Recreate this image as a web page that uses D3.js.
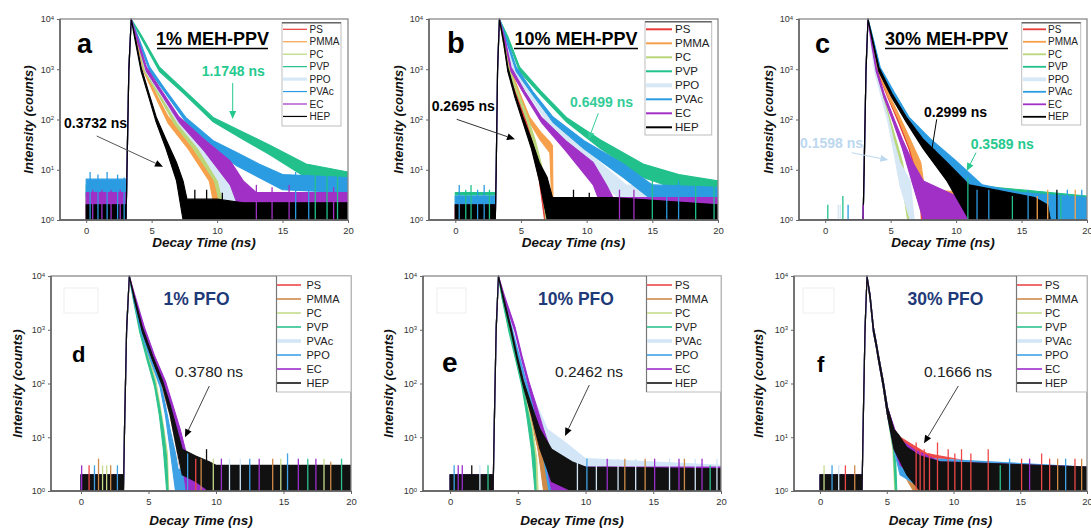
<!DOCTYPE html>
<html>
<head>
<meta charset="utf-8">
<title></title>
<style>
  body { margin: 0; background: #fff; }
  text { font-family: Arial, "Liberation Sans", sans-serif; }
</style>
</head>
<body>
<svg width="1091" height="528"></svg>

<script src="https://d3js.org/d3.v7.min.js"></script>
<script>

// ---- shared labels / ticks ----
var seriesTop = ["PS", "PMMA", "PC", "PVP", "PPO", "PVAc", "EC", "HEP"];
var seriesBottom = ["PS", "PMMA", "PC", "PVP", "PVAc", "PPO", "EC", "HEP"];
var xTickValues = [0, 5, 10, 15, 20];
var yTickValues = [1, 10, 100, 1000, 10000];

var colorsMEH = {PS: "#e83b3b", PMMA: "#f6a04c", PC: "#b9d77a", PVP: "#22c08a",
                 PPO: "#d6e7f6", PVAc: "#2c9ce2", EC: "#a131c6", HEP: "#000000"};
var colorsPFO = {PS: "#ee4848", PMMA: "#cf8a48", PC: "#c6dc8c", PVP: "#2dc38d",
                 PVAc: "#d2e6f7", PPO: "#3ea1e6", EC: "#9b2dcc", HEP: "#111111"};

// every point is [time ns, low count, high count] of the noisy trace

// ---- a : 1% MEH-PPV ----
var bgEndA = 3.02;
var riseA = [[3.05,1,1.2],[3.12,10,14],[3.26,900,1100],[3.44,9800,10000]];
var bgA = {PS:[1,3], PMMA:[1,3], PC:[1,3], PVP:[2,5], PPO:[1,3], PVAc:[3,6.5], EC:[1,3.5], HEP:[1,2]};
var decayA = {
  PS:   [[4.0,2900,3400],[4.5,900,1100],[5.7,280,340],[6.9,85,115],[8.4,26,38],[9.9,6,13],[10.6,1,6],[11.2,1,3],[20,1,3]],
  PMMA: [[3.95,2800,3300],[4.4,900,1100],[5.3,280,340],[6.25,85,115],[7.8,26,38],[9.4,6,13],[10.0,1,6],[10.4,1,3],[20,1,3]],
  PC:   [[4.0,2900,3400],[4.45,900,1100],[5.6,280,340],[6.7,85,115],[8.2,26,38],[9.8,6,13],[10.5,1,6],[11,1,3],[20,1,3]],
  PVP:  [[4.2,4200,4800],[5.6,900,1100],[7.5,320,380],[9.7,90,110],[12,40,56],[14,20,31],[16.8,7,13],[20,5,9]],
  PPO:  [[4.05,2900,3400],[4.55,900,1100],[5.8,280,340],[7.0,85,115],[8.6,26,38],[10.1,6,13],[10.8,1,6],[11.4,1,3],[20,1,3]],
  PVAc: [[4.0,3700,4300],[4.85,900,1100],[6.0,350,410],[7.6,90,110],[9.7,26,38],[11.5,12,22],[13.2,7,13],[15,4,8],[20,3.5,7]],
  EC:   [[4.0,3000,3600],[4.6,900,1100],[5.8,300,360],[7.1,88,112],[9.0,24,40],[11,5,15],[12,1,6],[13,1,3.5],[20,1,3.5]],
  HEP:  [[3.8,3100,3700],[4.2,900,1100],[4.8,270,330],[5.35,88,112],[6.1,26,40],[6.9,6,14],[7.4,1,6],[7.7,1,2.6],[10,1,2.6],[12,1,2.2],[20,1,2.2]]
};
var spikesA = [[0.3,9,"PVAc"],[0.9,8,"PVAc"],[1.6,9,"PVAc"],[2.4,8,"PVAc"],[2.9,7,"PVAc"],[0.5,4,"EC"],[1.2,4,"EC"],
               [1.9,4,"EC"],[2.6,4,"EC"],[17.5,9,"PVP"],[19.2,9,"PVP"],[18.4,8,"PVP"],[16,9,"PVAc"],[17,8,"PVAc"],
               [8.3,4,"HEP"],[9.2,4,"HEP"],[10.4,3.5,"HEP"],[13,5,"EC"],[14.2,4.5,"EC"],[15.5,5,"EC"],[18.9,4.5,"EC"]];

// ---- b : 10% MEH-PPV ----
var bgEndB = 3.0;
var riseB = [[3.05,1,1.2],[3.12,10,14],[3.22,900,1100],[3.36,9800,10000]];
var bgB = {PS:[1,2], PMMA:[1,2], PC:[1,2], PVP:[2,3.5], PPO:[2,3], PVAc:[2,3], EC:[1,2], HEP:[1,2]};
var decayB = {
  PS:   [[3.7,3000,3500],[4.05,900,1100],[4.65,280,340],[5.3,88,112],[5.9,26,38],[6.4,6,13],[6.8,1,6],[7.2,1,2.6],[20,1,2.6]],
  PMMA: [[3.75,3000,3500],[4.15,900,1100],[4.9,280,340],[5.65,88,112],[6.5,38,56],[7.2,22,36],[7.4,1,30],[7.45,1,1]],
  PC:   [[3.7,3000,3500],[4.05,900,1100],[4.8,280,340],[5.5,88,112],[6.1,26,38],[6.55,6,13],[6.9,1,4],[7.2,1,2],[20,1,2]],
  PVP:  [[4.0,3800,4500],[4.9,900,1100],[6.5,310,370],[8.46,90,110],[11,27,40],[14.3,7,13],[17,4,8],[20,3,6]],
  PPO:  [[3.85,3400,3900],[4.45,900,1100],[5.7,280,340],[7.0,88,112],[9.0,26,38],[11,6,14],[13,2,5],[20,2,3.5]],
  PVAc: [[3.9,3600,4200],[4.64,900,1100],[5.9,310,360],[7.44,88,112],[9.8,26,38],[12.8,7,13],[15,2.5,5],[20,2,4.5]],
  EC:   [[3.8,3400,3900],[4.25,900,1100],[5.3,300,360],[6.55,88,112],[8.4,24,38],[10.5,5,14],[11.5,1,5],[12,1,2.8],[20,1,2.8]],
  HEP:  [[3.7,3100,3600],[4.0,900,1100],[4.55,270,330],[5.15,88,112],[5.8,26,40],[6.4,6,14],[7.0,1,7],[7.4,1,2.8],[12,1,2.8],[20,1,2]]
};
var spikesB = [[0.3,5,"PVAc"],[0.8,4,"PVP"],[1.2,5,"PVP"],[1.7,4,"PVAc"],[2.2,5,"PVAc"],[2.6,4,"PVP"],[15,6,"PVP"],
               [16.1,5,"PVAc"],[17,6,"PVAc"],[18.3,5,"PVP"],[19.7,6,"PVP"],[12.5,4,"EC"],[13.6,4,"EC"],[9,4,"HEP"],[10.2,3.5,"HEP"]];

// ---- c : 30% MEH-PPV ----
var bgEndC = 2.88;
var riseC = [[2.9,1,1.2],[2.98,10,14],[3.12,900,1100],[3.27,9800,10000]];
var bgC = {PS:[1,1], PMMA:[1,1], PC:[1,1], PVP:[1,1], PPO:[1,1], PVAc:[1,1], EC:[1,1], HEP:[1,1]};
var decayC = {
  PS:   [[3.6,3300,3800],[4.0,900,1100],[4.8,270,330],[5.6,88,112],[6.4,26,40],[7.2,5,14],[7.35,1,5],[7.5,1,1]],
  PMMA: [[3.62,3300,3800],[4.05,900,1100],[4.85,270,330],[5.7,88,112],[6.5,26,40],[7.3,5,14],[7.6,1,4],[20,1,2.6]],
  PC:   [[3.55,3100,3600],[3.9,900,1100],[4.4,270,330],[4.9,88,112],[5.4,26,40],[5.9,5,14],[6.3,1,4],[6.5,1,1]],
  PVP:  [[3.65,3500,4000],[4.15,900,1100],[5.2,270,330],[6.3,88,112],[7.6,26,40],[9.8,6,14],[11,1,5],[20,1,3]],
  PPO:  [[3.5,3000,3500],[3.78,900,1100],[4.3,270,330],[4.8,88,112],[5.2,26,40],[5.7,5,14],[6.5,1,6],[6.8,1,1]],
  PVAc: [[3.66,3500,4100],[4.2,900,1100],[5.3,280,340],[6.4,88,112],[8.0,27,42],[10,6,15],[12,2,5],[15,1,3.5],[20,1,2.8]],
  EC:   [[3.55,3100,3600],[3.9,900,1100],[4.5,270,330],[5.2,88,112],[5.9,26,40],[6.7,5,14],[7.5,1,6],[10,1,3],[12,1,2.6],[12.3,1,1]],
  HEP:  [[3.63,3400,3900],[4.1,900,1100],[5.1,270,330],[6.2,88,112],[7.5,26,40],[9.3,6,14],[11,1,5],[16,1,2.8],[17,1,2],[17.2,1,1]]
};
var spikesC = [[0.2,2,"PVP"],[1.0,2,"PPO"],[1.15,2,"PPO"],[1.35,3,"PVP"],[1.75,2,"PVAc"],[2.9,2,"EC"],
               [10.9,7,"PVP"],[11.6,4,"PVAc"],[12.5,4,"PVAc"],[13.2,4,"HEP"],[14.3,3,"PVP"],[15.5,4,"PVAc"],
               [16.2,3,"PMMA"],[17,4,"PMMA"],[17.7,4,"HEP"],[18,3,"PVP"],[18.5,4,"PVAc"],[19.1,4,"PMMA"],[19.6,4,"PVAc"]];

// ---- d : 1% PFO ----
var bgEndD = 3.12;
var riseD = [[3.15,1,1.2],[3.22,10,14],[3.38,900,1100],[3.58,9800,10000]];
var bgD = {PS:[1,2], PMMA:[1,2], PC:[1,2], PVP:[1,2], PVAc:[1,2], PPO:[1,2], EC:[1,2], HEP:[1,2]};
var decayD = {
  PS:   [[3.95,3600,4200],[4.55,900,1100],[5.3,270,330],[6.0,88,112],[6.6,26,40],[7.1,6,14],[7.6,1,5],[10,1,2.8],[20,1,2.8]],
  PMMA: [[3.95,3600,4200],[4.55,900,1100],[5.3,270,330],[6.0,88,112],[6.6,26,40],[7.1,6,14],[7.6,1,5],[10,1,2.8],[20,1,2.8]],
  PC:   [[3.9,3600,4200],[4.4,900,1100],[5.0,270,330],[5.55,88,112],[5.85,26,40],[6.15,6,14],[6.4,1,5],[6.5,1,1]],
  PVP:  [[3.88,3600,4200],[4.35,900,1100],[4.9,270,330],[5.45,88,112],[5.8,26,40],[6.1,6,14],[6.35,1,4],[6.45,1,1]],
  PVAc: [[3.95,3600,4200],[4.55,900,1100],[5.3,270,330],[6.05,88,112],[6.6,26,40],[7.1,6,14],[7.6,1,5],[10,1,2.8],[20,1,2.8]],
  PPO:  [[3.92,3600,4200],[4.45,900,1100],[5.15,270,330],[5.85,88,112],[6.25,26,40],[6.6,6,14],[7.0,1,5],[7.2,1,2.5],[20,1,2.5]],
  EC:   [[4.0,3700,4300],[4.7,900,1100],[5.45,270,330],[6.25,88,112],[6.8,26,40],[7.35,6,14],[7.8,1,5],[10,1,2.8],[20,1,2.8]],
  HEP:  [[3.95,3600,4200],[4.55,900,1100],[5.3,270,330],[6.05,88,112],[6.6,26,40],[7.1,6,14],[7.5,2,6],[8.5,1.5,4.5],[9.5,1,3.5],[10,1,3],[20,1,3]]
};
var spikesD = [[0.05,3,"EC"],[0.6,3,"PS"],[1.0,3,"PPO"],[1.3,4,"PMMA"],[1.6,3,"PC"],[1.9,3,"PC"],[2.2,3,"PMMA"],[2.7,3,"PPO"],
               [7.9,5,"PPO"],[8.5,4,"PS"],[8.9,4,"PMMA"],[9.3,6,"HEP"],[9.8,4,"PC"],[10.4,4,"EC"],[11.0,4,"PVAc"],
               [11.8,4,"PVAc"],[12.5,4,"PPO"],[13.2,4,"EC"],[14.2,4,"PMMA"],[14.8,4,"PC"],[15.3,5,"PPO"],
               [16.1,4,"EC"],[16.8,4,"PVP"],[17.4,4,"EC"],[18.0,4,"PC"],[18.5,3.5,"PMMA"],[19.3,4,"PVP"]];

// ---- e : 10% PFO ----
var bgEndE = 3.15;
var riseE = [[3.18,1,1.2],[3.25,10,14],[3.4,900,1100],[3.57,9800,10000]];
var bgE = {PS:[1,2], PMMA:[1,2], PC:[1,2], PVP:[1,2], PVAc:[1,2], PPO:[1,2], EC:[1,2], HEP:[1,2]};
var decayE = {
  PS:   [[3.9,3700,4300],[4.5,900,1100],[5.0,270,330],[5.45,88,112],[5.95,26,40],[6.5,6,14],[7.0,1,5],[7.5,1,2.5],[20,1,2.5]],
  PMMA: [[3.9,3700,4300],[4.5,900,1100],[5.0,270,330],[5.45,88,112],[5.95,26,40],[6.5,6,14],[6.9,1,4],[7.2,1,2.5],[20,1,2.5]],
  PC:   [[3.85,3700,4300],[4.4,900,1100],[4.9,270,330],[5.35,88,112],[5.7,26,40],[6.1,6,14],[6.4,1,4],[6.5,1,1]],
  PVP:  [[3.85,3700,4300],[4.35,900,1100],[4.85,270,330],[5.3,88,112],[5.65,26,40],[6.0,6,14],[6.27,1,4],[6.35,1,1]],
  PVAc: [[3.95,3700,4300],[4.6,900,1100],[5.15,270,330],[5.7,88,112],[6.4,26,40],[7.2,6,14],[8.5,3,8],[10,2,4],[20,1.5,3]],
  PPO:  [[3.92,3700,4300],[4.55,900,1100],[5.1,270,330],[5.6,88,112],[6.2,26,40],[6.8,6,14],[7.3,1,5],[7.6,1,2.5],[20,1,2.5]],
  EC:   [[4.0,3800,4400],[4.8,900,1100],[5.3,270,330],[5.8,88,112],[6.35,26,40],[6.9,6,14],[7.5,1,5],[8,1,2.8],[20,1,2.8]],
  HEP:  [[3.92,3700,4300],[4.5,900,1100],[4.95,270,330],[5.41,88,112],[6.0,26,40],[6.64,6,14],[7.5,1.5,6],[9,1,3.5],[10,1,2.8],[20,1,2.6]]
};
var spikesE = [[0.3,3,"PPO"],[0.6,3,"EC"],[0.9,3,"EC"],[1.6,3,"HEP"],[2.2,3,"PVAc"],[2.8,3,"PVP"],[9.4,5,"PVAc"],
               [10.1,4,"PPO"],[10.8,4,"PVAc"],[11.6,4,"EC"],[12.4,4,"PVAc"],[12.9,4,"PMMA"],[13.7,4,"PVAc"],
               [14.4,4,"PMMA"],[15.1,4,"EC"],[16.2,4,"PVAc"],[16.9,4,"EC"],[17.3,4,"PMMA"],[18.1,4,"PVAc"],
               [18.6,4,"EC"],[19.2,3,"PVP"],[19.7,4,"PVAc"]];

// ---- f : 30% PFO ----
var bgEndF = 3.12;
var riseF = [[3.15,1,1.2],[3.22,10,14],[3.37,900,1100],[3.52,9800,10000]];
var bgF = {PS:[1,2], PMMA:[1,2], PC:[1,2], PVP:[1,2], PVAc:[1,2], PPO:[1,2], EC:[1,2], HEP:[1,2]};
var coreF = [[3.75,3800,4400],[4.0,900,1100],[4.2,500,600],[4.38,270,330],[4.73,88,112],[5.05,26,36]];
var decayF = {
  PS:   coreF.concat([[5.54,7,14],[6.0,5,10],[7,3.5,7],[8,2.5,5],[10,1.5,4],[12,1.2,3.2],[20,1,2.8]]),
  PMMA: coreF.concat([[5.54,6,14],[5.9,3,10],[7,1,5],[9,1,3],[20,1,2.8]]),
  PC:   coreF.concat([[5.45,6,14],[5.6,1,5],[5.7,1,1]]),
  PVP:  coreF.concat([[5.5,6,14],[5.65,1,5],[5.75,1,1]]),
  PVAc: coreF.concat([[5.54,6,14],[6.0,2,8],[8,1,4],[20,1,2.8]]),
  PPO:  coreF.concat([[5.54,6,14],[6.0,2,8],[8,1,4],[20,1,2.8]]),
  EC:   coreF.concat([[5.6,6,14],[6.0,3,9],[7,2,6],[9,1,3.5],[20,1,2.8]]),
  HEP:  coreF.concat([[5.54,6,14],[5.9,4,11],[6.5,2,6.5],[7.5,1,4.5],[9,1,3.5],[20,1,2.8]])
};
var spikesF = [[0.3,3,"PC"],[0.9,3,"PPO"],[1.4,3,"PVAc"],[1.9,3,"PS"],[2.6,3,"PMMA"],[7.2,8,"PS"],[7.5,6,"PS"],
               [7.8,6,"PS"],[8.2,5,"PS"],[8.8,8,"PS"],[9.6,6,"PS"],[10.1,5,"PS"],[10.6,6,"PS"],[11.3,5,"PS"],
               [12.6,6,"PS"],[13.5,3,"PVP"],[14.2,4,"PPO"],[15.1,4,"PS"],[15.7,4,"EC"],[16.6,5,"PS"],
               [17.2,4,"PS"],[17.8,4,"PMMA"],[18.4,4,"PPO"],[19.1,4,"PS"],[19.6,4,"PMMA"]];

// ---- panel layout ----
var panels = [
  {letter: "a", box: [60, 19, 348, 220], x0: -2, names: seriesTop, colors: colorsMEH,
   bg: bgA, bgEnd: bgEndA, rise: riseA, decay: decayA, spikes: spikesA,
   title: "1% MEH-PPV", titleX: 212.5, titleY: 44.5, underline: [157, 268, 48.5],
   letterPos: [77, 53.3, 27],
   legend: {x: 282, y: 22.7, w: 59, h: 103.3, l0: 283, l1: 307, tx: 309.5, y0: 29.3, step: 12.45, fs: 10, lw: 1.2},
   yLabelX: 28, notes: [
     {t: "0.3732 ns", x: 64, y: 122.7, c: "#000", a: [96.7, 136, 163, 166.7], ac: "#555", hc: "#000"},
     {t: "1.1748 ns", x: 201.7, y: 70.7, c: "#25c98e", a: [232.7, 83, 232.7, 119], ac: "#25c98e", hc: "#25c98e"}]},
  {letter: "b", box: [429, 19, 718, 220], x0: -2, names: seriesTop, colors: colorsMEH,
   bg: bgB, bgEnd: bgEndB, rise: riseB, decay: decayB, spikes: spikesB,
   title: "10% MEH-PPV", titleX: 576, titleY: 44.5, underline: [514, 638, 48.5],
   letterPos: [447, 53.3, 29],
   legend: {x: 645, y: 21.7, w: 66.7, h: 113.3, l0: 646, l1: 672, tx: 675, y0: 29.3, step: 14, fs: 11.5, lw: 2},
   yLabelX: 398, notes: [
     {t: "0.2695 ns", x: 431.7, y: 106, c: "#000", a: [456.7, 119.3, 515, 139.3], ac: "#333", hc: "#000"},
     {t: "0.6499 ns", x: 570, y: 101.7, c: "#33cc99", a: [598.3, 113.3, 588.3, 140], ac: "#33cc99", hc: "#33cc99"}]},
  {letter: "c", box: [799, 19, 1087, 220], x0: -2, names: seriesTop, colors: colorsMEH,
   bg: bgC, bgEnd: bgEndC, rise: riseC, decay: decayC, spikes: spikesC,
   title: "30% MEH-PPV", titleX: 946.5, titleY: 44.5, underline: [885, 1008, 48.5],
   letterPos: [815, 53.3, 27],
   legend: {x: 1021.7, y: 22.7, w: 59, h: 102.3, l0: 1023, l1: 1046, tx: 1048, y0: 29.3, step: 12.5, fs: 10, lw: 1.8},
   yLabelX: 768, notes: [
     {t: "0.1598 ns", x: 800, y: 142.7, c: "#bcd8ef", a: [851.7, 152.7, 888.3, 160], ac: "#bcd8ef", hc: "#bcd8ef"},
     {t: "0.2999 ns", x: 924, y: 111.7, c: "#000", a: [936.7, 119.3, 930.7, 157], ac: "#000", hc: "#000"},
     {t: "0.3589 ns", x: 970.7, y: 144.3, c: "#25c98e", a: [976, 152.7, 966.7, 171], ac: "#25c98e", hc: "#25c98e"}]},
  {letter: "d", box: [51, 276, 351, 491], x0: -2.22, names: seriesBottom, colors: colorsPFO,
   bg: bgD, bgEnd: bgEndD, rise: riseD, decay: decayD, spikes: spikesD,
   title: "1% PFO", titleX: 196.5, titleY: 304.5, pfo: true, blank: [64, 288, 34, 25],
   letterPos: [72, 361.7, 22],
   legend: {x: 276.5, y: 276, w: 74.5, h: 116, l0: 277, l1: 301, tx: 306.5, y0: 285, step: 14, fs: 11, lw: 1.6},
   yLabelX: 17, notes: [
     {t: "0.3780 ns", x: 175, y: 371, c: "#222", a: [209.3, 386, 185, 437.3], ac: "#444", hc: "#000", normal: true}]},
  {letter: "e", box: [423, 276, 721, 491], x0: -2, names: seriesBottom, colors: colorsPFO,
   bg: bgE, bgEnd: bgEndE, rise: riseE, decay: decayE, spikes: spikesE,
   title: "10% PFO", titleX: 576, titleY: 304.5, pfo: true, blank: [437, 288, 29, 25],
   letterPos: [442, 371.7, 28],
   legend: {x: 646.5, y: 276, w: 74.5, h: 116, l0: 647, l1: 672, tx: 675, y0: 285, step: 14, fs: 11, lw: 1.6},
   yLabelX: 388, notes: [
     {t: "0.2462 ns", x: 555, y: 371.7, c: "#222", a: [589.3, 385, 565, 436], ac: "#444", hc: "#000", normal: true}]},
  {letter: "f", box: [794, 276, 1087, 491], x0: -1.95, names: seriesBottom, colors: colorsPFO,
   bg: bgF, bgEnd: bgEndF, rise: riseF, decay: decayF, spikes: spikesF,
   title: "30% PFO", titleX: 945.5, titleY: 304.5, pfo: true, blank: [803, 288, 31, 25],
   letterPos: [817, 371.7, 22],
   legend: {x: 1016.5, y: 276, w: 70.5, h: 116, l0: 1017, l1: 1042, tx: 1045, y0: 285, step: 14, fs: 11, lw: 1.6},
   yLabelX: 758, notes: [
     {t: "0.1666 ns", x: 924, y: 371.7, c: "#222", a: [958.3, 386, 924, 443.3], ac: "#444", hc: "#000", normal: true}]}
];

var svg = d3.select("svg");

panels.forEach(drawPanel);

function drawPanel(p, i) {
  var L = p.box[0], T = p.box[1], R = p.box[2], B = p.box[3];
  var x = d3.scaleLinear().domain([p.x0, 20]).range([L, R]);
  var y = d3.scaleLog().domain([1, 10000]).range([B, T]);
  var g = svg.append("g");

  var clipId = "clip" + i;
  svg.append("clipPath").attr("id", clipId)
    .append("rect").attr("x", L).attr("y", T - 1).attr("width", R - L).attr("height", B - T + 1);

  var area = d3.area()
      .x(function(d) { return x(d[0]); })
      .y0(function(d) { return y(Math.max(1, d[1])); })
      .y1(function(d) { return y(Math.max(1, d[2])); });

  var plot = g.append("g").attr("clip-path", "url(#" + clipId + ")");

  p.names.forEach(function(name) {
    var bg = p.bg[name];
    var pts = [[0, bg[0], bg[1]], [p.bgEnd, bg[0], bg[1]]].concat(p.rise, p.decay[name]);
    var col = p.colors[name];
    plot.append("path")
        .datum(pts)
        .attr("d", area)
        .attr("fill", col)
        .attr("stroke", col)
        .attr("stroke-width", 1.1)
        .attr("stroke-linejoin", "round");
  });

  plot.selectAll(".spike")
    .data(p.spikes)
    .enter().append("line")
      .attr("x1", function(d) { return x(d[0]); })
      .attr("x2", function(d) { return x(d[0]); })
      .attr("y1", y(1))
      .attr("y2", function(d) { return y(d[1]); })
      .attr("stroke", function(d) { return p.colors[d[2]]; })
      .attr("stroke-width", 1.3);

  // frame
  g.append("rect")
      .attr("x", L).attr("y", T).attr("width", R - L).attr("height", B - T)
      .attr("fill", "none").attr("stroke", "#8a8a8a").attr("stroke-width", 1.3);
  g.append("path")
      .attr("d", "M" + L + "," + T + "V" + B + "H" + R)
      .attr("fill", "none").attr("stroke", "#555").attr("stroke-width", 1.3);

  // axes
  var xAxis = d3.axisBottom(x).tickValues(xTickValues).tickSize(3).tickPadding(4).tickFormat(d3.format("d"));
  g.append("g").attr("transform", "translate(0," + B + ")").call(xAxis)
    .call(function(s) { s.select(".domain").remove(); })
    .call(function(s) {
      s.selectAll("line").attr("stroke", "#666");
      s.selectAll("text").attr("font-size", 9.5).attr("fill", "#333");
    });

  var yAxis = d3.axisLeft(y).tickValues(yTickValues).tickSize(3).tickPadding(3).tickFormat("");
  var ya = g.append("g").attr("transform", "translate(" + L + ",0)").call(yAxis);
  ya.select(".domain").remove();
  ya.selectAll("line").attr("stroke", "#666");
  ya.selectAll(".tick text")
    .attr("font-size", 9).attr("fill", "#333")
    .each(function(d) {
      var t = d3.select(this);
      t.append("tspan").text("10");
      t.append("tspan").attr("dy", "-0.45em").attr("font-size", 6).text(Math.round(Math.log10(d)));
    });

  // axis titles
  var bottomTitleY = i < 3 ? 247 : 525;
  g.append("text")
      .attr("x", (L + R) / 2).attr("y", bottomTitleY)
      .attr("text-anchor", "middle")
      .attr("font-size", 13.5).attr("font-weight", "bold").attr("font-style", "italic")
      .attr("fill", "#111")
      .text("Decay Time (ns)");
  g.append("text")
      .attr("transform", "translate(" + p.yLabelX + "," + ((T + B) / 2) + ") rotate(-90)")
      .attr("text-anchor", "middle").attr("dy", "0.35em")
      .attr("font-size", 13).attr("font-weight", "bold").attr("font-style", "italic")
      .attr("fill", "#111")
      .text("Intensity (counts)");

  // panel letter
  g.append("text")
      .attr("x", p.letterPos[0]).attr("y", p.letterPos[1])
      .attr("font-size", p.letterPos[2]).attr("font-weight", "bold")
      .attr("fill", "#000")
      .text(p.letter);

  // title
  g.append("text")
      .attr("x", p.titleX).attr("y", p.titleY)
      .attr("text-anchor", "middle")
      .attr("font-size", p.pfo ? 17.5 : 18).attr("font-weight", "bold")
      .attr("fill", p.pfo ? "#1f3a78" : "#000")
      .text(p.title);
  if (p.underline) {
    g.append("line")
        .attr("x1", p.underline[0]).attr("x2", p.underline[1])
        .attr("y1", p.underline[2]).attr("y2", p.underline[2])
        .attr("stroke", "#000").attr("stroke-width", 1.4);
  }
  if (p.blank) {
    g.append("rect")
        .attr("x", p.blank[0]).attr("y", p.blank[1]).attr("width", p.blank[2]).attr("height", p.blank[3])
        .attr("fill", "#fff").attr("stroke", "#eeeeee").attr("stroke-width", 1);
  }

  // legend
  var lg = p.legend;
  var leg = g.append("g");
  leg.append("rect")
      .attr("x", lg.x).attr("y", lg.y).attr("width", lg.w).attr("height", lg.h)
      .attr("fill", "#fff").attr("stroke", "#bdbdbd").attr("stroke-width", 1);
  if (i < 3) {
    leg.append("line")
        .attr("x1", lg.x).attr("x2", lg.x + lg.w).attr("y1", lg.y).attr("y2", lg.y)
        .attr("stroke", "#666").attr("stroke-width", 1.5);
  } else {
    leg.append("line")
        .attr("x1", lg.x).attr("x2", lg.x).attr("y1", lg.y).attr("y2", lg.y + lg.h)
        .attr("stroke", "#777").attr("stroke-width", 1.2);
  }
  p.names.forEach(function(name, k) {
    var yy = lg.y0 + k * lg.step;
    var light = (name === "PPO" && i < 3) || (name === "PVAc" && i >= 3);
    leg.append("line")
        .attr("x1", lg.l0).attr("x2", lg.l1).attr("y1", yy).attr("y2", yy)
        .attr("stroke", p.colors[name])
        .attr("stroke-width", light ? lg.lw + 2 : lg.lw);
    leg.append("text")
        .attr("x", lg.tx).attr("y", yy).attr("dy", "0.36em")
        .attr("font-size", lg.fs).attr("fill", "#222")
        .text(name);
  });

  // lifetime notes with arrows
  p.notes.forEach(function(n) {
    g.append("text")
        .attr("x", n.x).attr("y", n.y).attr("dy", "0.36em")
        .attr("font-size", n.normal ? 15.5 : 14)
        .attr("font-weight", n.normal ? "normal" : "bold")
        .attr("fill", n.c)
        .text(n.t);
    var a = n.a;
    var ang = Math.atan2(a[3] - a[1], a[2] - a[0]);
    var hl = 8, hw = 3.5;
    var bx = a[2] - hl * Math.cos(ang), by = a[3] - hl * Math.sin(ang);
    g.append("line")
        .attr("x1", a[0]).attr("y1", a[1]).attr("x2", bx).attr("y2", by)
        .attr("stroke", n.ac).attr("stroke-width", 1);
    var pts = [
      [a[2], a[3]],
      [bx + hw * Math.sin(ang), by - hw * Math.cos(ang)],
      [bx - hw * Math.sin(ang), by + hw * Math.cos(ang)]
    ];
    g.append("path")
        .attr("d", "M" + pts.map(function(q) { return q.join(","); }).join("L") + "Z")
        .attr("fill", n.hc);
  });
}

</script>
</body>
</html>
